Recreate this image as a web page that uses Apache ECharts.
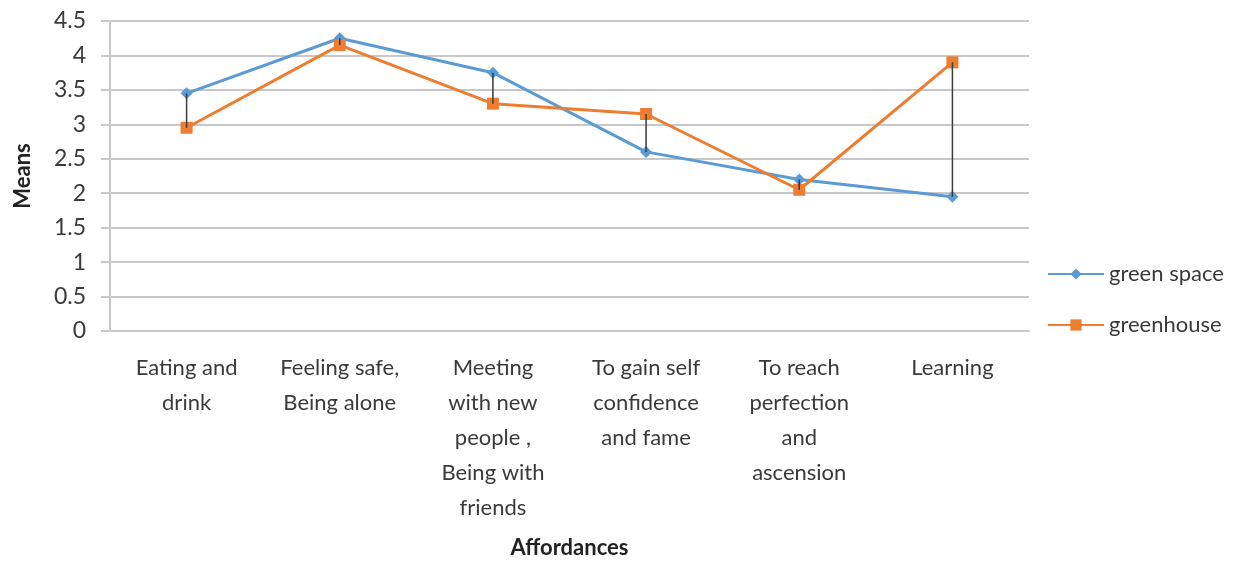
<!DOCTYPE html>
<html>
<head>
<meta charset="utf-8">
<script src="https://cdn.jsdelivr.net/npm/echarts@6/dist/echarts.min.js"></script>
<style>
    html, body { margin: 0; padding: 0; background: #fff; }
    #chart { width: 1251px; height: 561px; }
</style>
</head>
<body>
<div id="chart"></div>
<script>
// categories and means
var categories = [
    'Eating and\ndrink',
    'Feeling safe,\nBeing alone',
    'Meeting\nwith new\npeople ,\nBeing with\nfriends',
    'To gain self\nconfidence\nand fame',
    'To reach\nperfection\nand\nascension',
    'Learning'
];
var greenSpace = [3.45, 4.25, 3.75, 2.6, 2.2, 1.95];
var greenhouse = [2.95, 4.15, 3.3, 3.15, 2.05, 3.9];
var yTicks = [0, 0.5, 1, 1.5, 2, 2.5, 3, 3.5, 4, 4.5];

var font = 'Lato, "Open Sans", sans-serif';
var chart = echarts.init(document.getElementById('chart'), null, { renderer: 'canvas' });

chart.setOption({
    animation: false,
    backgroundColor: '#fff',
    grid: {
        left: 110,
        right: 222,
        top: 21,
        bottom: 230,
        containLabel: false,
        outerBoundsMode: 'none'
    },
    legend: {
        orient: 'vertical',
        left: 1042,
        top: 258,
        itemWidth: 56,
        itemHeight: 14,
        itemGap: 29,
        data: ['green space', 'greenhouse'],
        textStyle: {
            fontFamily: font,
            fontSize: 22,
            color: '#3a3a3a',
            lineHeight: 22
        }
    },
    xAxis: {
        type: 'category',
        data: categories,
        boundaryGap: true,
        name: 'Affordances',
        nameLocation: 'middle',
        nameGap: 206,
        nameTextStyle: {
            fontFamily: font,
            fontSize: 22,
            fontWeight: 'bold',
            color: '#222'
        },
        axisLine: { show: true, lineStyle: { color: '#c8c8c8', width: 2 } },
        axisTick: { show: false },
        axisLabel: {
            interval: 0,
            margin: 19,
            fontFamily: font,
            fontSize: 22,
            lineHeight: 35,
            color: '#3a3a3a',
            align: 'center'
        }
    },
    yAxis: {
        type: 'value',
        min: 0,
        max: 4.5,
        interval: 0.5,
        name: 'Means',
        nameLocation: 'middle',
        nameGap: 76,
        nameTextStyle: {
            fontFamily: font,
            fontSize: 22,
            fontWeight: 'bold',
            color: '#222'
        },
        axisLine: { show: true, lineStyle: { color: '#c8c8c8', width: 2 } },
        axisTick: { show: true, length: 9, lineStyle: { color: '#c8c8c8', width: 2 } },
        axisLabel: {
            margin: 24,
            fontFamily: font,
            fontSize: 23,
            color: '#3a3a3a',
            formatter: function (v) {
                return yTicks.indexOf(v) >= 0 ? String(v) : '';
            }
        },
        splitLine: { show: true, lineStyle: { color: '#c8c8c8', width: 2 } }
    },
    series: [
        {
            name: 'high-low',
            type: 'custom',
            z: 3,
            silent: true,
            data: categories.map(function (c, i) {
                return [i, greenSpace[i], greenhouse[i]];
            }),
            renderItem: function (params, api) {
                var a = api.coord([api.value(0), api.value(1)]);
                var b = api.coord([api.value(0), api.value(2)]);
                return {
                    type: 'line',
                    shape: { x1: a[0], y1: a[1], x2: b[0], y2: b[1] },
                    style: { stroke: '#3a3a3a', lineWidth: 1.5 }
                };
            }
        },
        {
            name: 'green space',
            type: 'line',
            z: 2,
            data: greenSpace,
            symbol: 'diamond',
            symbolSize: 12,
            showAllSymbol: true,
            itemStyle: { color: '#5b9bd5' },
            lineStyle: { color: '#5b9bd5', width: 3 }
        },
        {
            name: 'greenhouse',
            type: 'line',
            z: 2,
            data: greenhouse,
            symbol: 'rect',
            symbolSize: 12,
            showAllSymbol: true,
            itemStyle: { color: '#ed7d31' },
            lineStyle: { color: '#ed7d31', width: 3 }
        }
    ]
});
</script>
</body>
</html>
